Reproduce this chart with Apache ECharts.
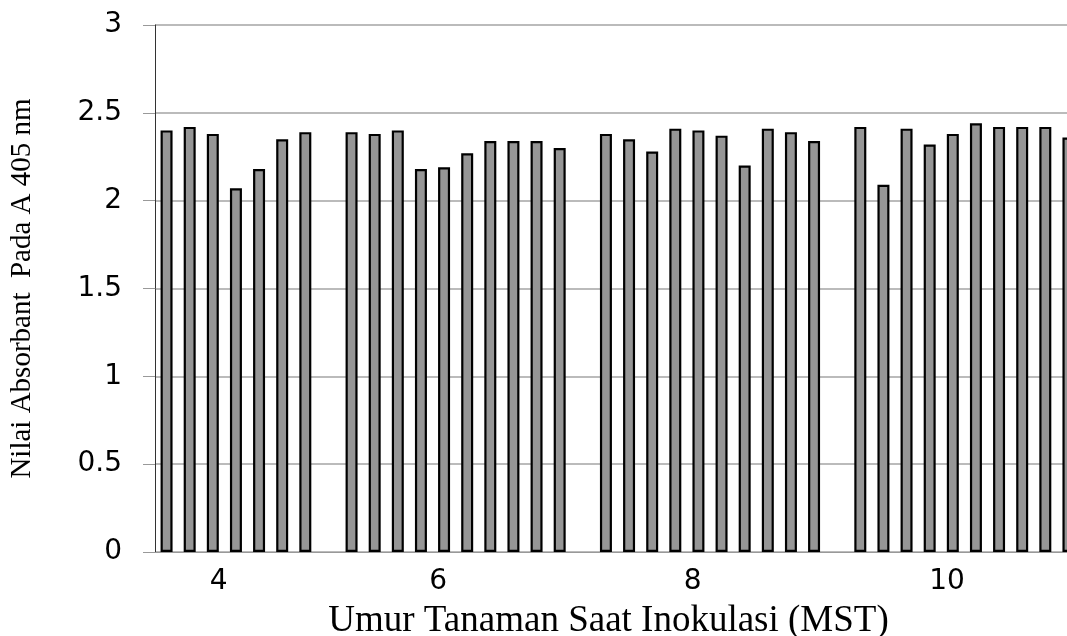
<!DOCTYPE html>
<html>
<head>
<meta charset="utf-8">
<title>Nilai Absorbant</title>
<script src="https://cdn.jsdelivr.net/npm/echarts@6/dist/echarts.min.js"></script>
<style>
    html, body { margin: 0; padding: 0; background: #fff; }
    #chart { width: 1067px; height: 636px; }
</style>
</head>
<body>
<div id="chart"></div>
<script>
// umur tanaman (MST) - label sumbu x
var groups = ['4', '6', '8', '10'];
// nilai absorbant tiap kelompok (kelompok 4 terpotong di kiri)
var values4 = [2.40, 2.42, 2.38, 2.07, 2.18, 2.35, 2.39];
var values6 = [2.39, 2.38, 2.40, 2.18, 2.19, 2.27, 2.34, 2.34, 2.34, 2.30];
var values8 = [2.38, 2.35, 2.28, 2.41, 2.40, 2.37, 2.20, 2.41, 2.39, 2.34];
var values10 = [2.42, 2.09, 2.41, 2.32, 2.38, 2.44, 2.42, 2.42, 2.42, 2.36];
// tick sumbu y
var yTicks = [0, 0.5, 1, 1.5, 2, 2.5, 3];

// posisi label kelompok (indeks setengah slot)
var labelAt = [5, 24, 46, 68];

var page = {
    init: function () {
        var myChart = echarts.init(document.getElementById('chart'));
        // susun slot batang, satu slot kosong antar kelompok
        var allGroups = [values4, values6, values8, values10];
        var slots = [];
        var barData = [];
        for (var i = 0; i < allGroups.length; i++) {
            if (i > 0) {
                slots.push('');
                barData.push(null);
            }
            for (var j = 0; j < allGroups[i].length; j++) {
                slots.push(groups[i] + '-' + (j + 1));
                barData.push(allGroups[i][j]);
            }
        }
        // sumbu label: dua kali jumlah slot
        var halfSlots = [];
        for (var k = 0; k < slots.length * 2; k++) {
            var idx = labelAt.indexOf(k);
            halfSlots.push(idx >= 0 ? groups[idx] : '');
        }

        var option = {
            animation: false,
            grid: {
                left: 155,
                right: -13,
                top: 25,
                bottom: 84,
                outerBoundsMode: 'none'
            },
            xAxis: [{
                type: 'category',
                data: slots,
                axisLine: { lineStyle: { color: '#999', width: 1 } },
                axisTick: { show: false },
                axisLabel: { show: false },
                splitLine: { show: false }
            }, {
                type: 'category',
                data: halfSlots,
                position: 'bottom',
                axisLine: { show: false },
                axisTick: { show: false },
                splitLine: { show: false },
                axisLabel: {
                    interval: 0,
                    margin: 16,
                    color: '#000',
                    fontFamily: 'DejaVu Sans',
                    fontSize: 28
                },
                name: 'Umur Tanaman Saat Inokulasi (MST)',
                nameLocation: 'middle',
                nameGap: 51,
                nameTextStyle: {
                    color: '#000',
                    fontFamily: 'Liberation Serif',
                    fontSize: 37,
                    padding: [0, 18, 0, 0]
                }
            }],
            yAxis: {
                type: 'value',
                min: yTicks[0],
                max: yTicks[yTicks.length - 1],
                interval: 0.5,
                axisLine: { show: true, lineStyle: { color: '#333', width: 1 } },
                axisTick: { show: true, length: 12, lineStyle: { color: '#999' } },
                axisLabel: {
                    margin: 33,
                    color: '#000',
                    fontFamily: 'DejaVu Sans',
                    fontSize: 28
                },
                splitLine: { lineStyle: { color: '#bbb', width: 2 } },
                name: 'Nilai Absorbant  Pada A 405 nm',
                nameLocation: 'middle',
                nameGap: 118,
                nameTextStyle: {
                    color: '#000',
                    fontFamily: 'Liberation Serif',
                    fontSize: 29
                }
            },
            series: [{
                type: 'bar',
                xAxisIndex: 0,
                data: barData,
                barWidth: 12,
                itemStyle: {
                    color: '#969696',
                    borderColor: '#000',
                    borderWidth: 2.2
                }
            }]
        };
        myChart.setOption(option);
    }
};

// inisialisasi
page.init();
</script>
</body>
</html>
